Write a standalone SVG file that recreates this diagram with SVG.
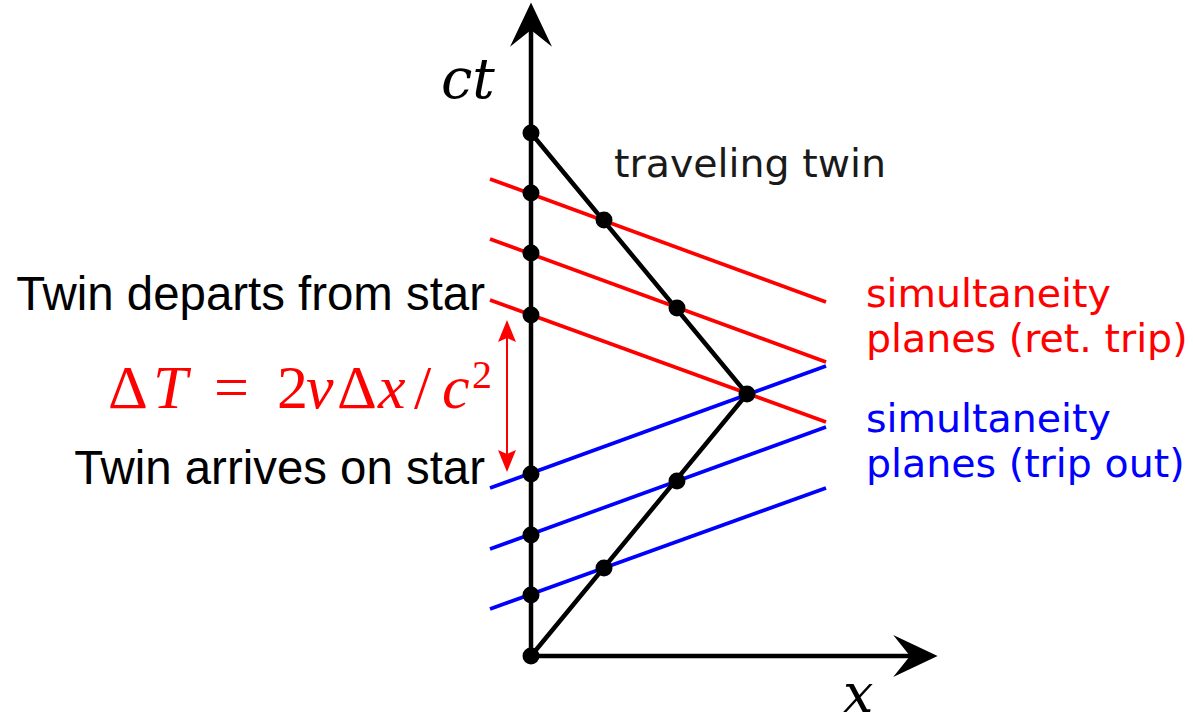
<svg xmlns="http://www.w3.org/2000/svg" width="1193" height="727" viewBox="0 0 1193 727">
<defs>
<style>
.axis{stroke:#000;stroke-width:4.5;fill:none}
.world{stroke:#000;stroke-width:4.5;fill:none;stroke-linejoin:miter}
.red{stroke:#ff0000;stroke-width:3.7;fill:none}
.blue{stroke:#0000ff;stroke-width:3.7;fill:none}
.dt{stroke:#ff0000;stroke-width:2;fill:none}
.dot{fill:#000}
.sans{font-family:"DejaVu Sans",sans-serif;font-size:39.5px}
.arial{font-family:"Liberation Sans",Arial,sans-serif;font-size:47.4px;fill:#000}
.math{font-family:"Liberation Serif","Times New Roman",serif;font-size:62px;fill:#ff0000}
.it{font-style:italic}
.var{font-family:"DejaVu Serif",serif;font-style:italic;fill:#000}
</style>
<marker id="axhead" markerUnits="userSpaceOnUse" markerWidth="60" markerHeight="60" viewBox="-20 -20 50 40" refX="0" refY="0" orient="auto">
<path d="M23,0 L-14,-17.5 L0,0 L-14,17.5 Z" fill="#000"/>
</marker>
<marker id="redhead" markerUnits="userSpaceOnUse" markerWidth="30" markerHeight="30" viewBox="-8 -12 30 24" refX="0" refY="0" orient="auto-start-reverse">
<path d="M18,0 L-4,-9 L0,0 L-4,9 Z" fill="#ff0000"/>
</marker>
</defs>
<rect width="1193" height="727" fill="#fff"/>
<g id="connectors">
<line class="red" x1="490" y1="179" x2="826" y2="302"/>
<line class="red" x1="490" y1="239" x2="826" y2="362"/>
<line class="red" x1="490" y1="300" x2="826" y2="422"/>
<line class="blue" x1="490" y1="488" x2="826" y2="366"/>
<line class="blue" x1="490" y1="549" x2="826" y2="427"/>
<line class="blue" x1="490" y1="609" x2="826" y2="488"/>
<line class="axis" x1="531" y1="656" x2="531" y2="30" marker-end="url(#axhead)"/>
<line class="axis" x1="531" y1="656" x2="910" y2="656" marker-end="url(#axhead)"/>
<polyline class="world" points="531,656 747,394 531,133"/>
<line class="dt" x1="507" y1="338" x2="507" y2="454" marker-start="url(#redhead)" marker-end="url(#redhead)"/>
</g>
<g id="events">
<circle class="dot" cx="531" cy="133" r="8.5"/>
<circle class="dot" cx="531" cy="193" r="8.5"/>
<circle class="dot" cx="531" cy="253" r="8.5"/>
<circle class="dot" cx="531" cy="315" r="8.5"/>
<circle class="dot" cx="531" cy="474" r="8.5"/>
<circle class="dot" cx="531" cy="535" r="8.5"/>
<circle class="dot" cx="531" cy="595" r="8.5"/>
<circle class="dot" cx="531" cy="656" r="8.5"/>
<circle class="dot" cx="604" cy="220" r="8.5"/>
<circle class="dot" cx="677" cy="308" r="8.5"/>
<circle class="dot" cx="747" cy="394" r="8.5"/>
<circle class="dot" cx="677" cy="481" r="8.5"/>
<circle class="dot" cx="604" cy="568" r="8.5"/>
</g>
<g id="label-ct"><text class="var" x="441" y="98" font-size="56">ct</text></g>
<g id="label-x"><text class="var" x="843" y="712" font-size="54">x</text></g>
<g id="label-traveling"><text class="sans" x="614" y="177" fill="#1a1a1a">traveling twin</text></g>
<g id="label-ret">
<text class="sans" fill="#ff0000"><tspan x="866" y="307">simultaneity</tspan><tspan x="866" y="352">planes (ret. trip)</tspan></text>
</g>
<g id="label-out">
<text class="sans" fill="#0000ff"><tspan x="866" y="432">simultaneity</tspan><tspan x="866" y="477">planes (trip out)</tspan></text>
</g>
<g id="label-departs"><text class="arial" x="485" y="310" text-anchor="end">Twin departs from star</text></g>
<g id="label-arrives"><text class="arial" x="485" y="484" text-anchor="end">Twin arrives on star</text></g>
<g id="label-dt">
<text class="math" y="408"><tspan x="108">Δ</tspan><tspan class="it" x="153">T</tspan><tspan x="214">=</tspan><tspan x="277">2</tspan><tspan class="it" x="306">v</tspan><tspan x="337">Δ</tspan><tspan class="it" x="378">x</tspan><tspan x="414">/</tspan><tspan class="it" x="442">c</tspan><tspan x="472" y="388" font-size="40">2</tspan></text>
</g>
</svg>
